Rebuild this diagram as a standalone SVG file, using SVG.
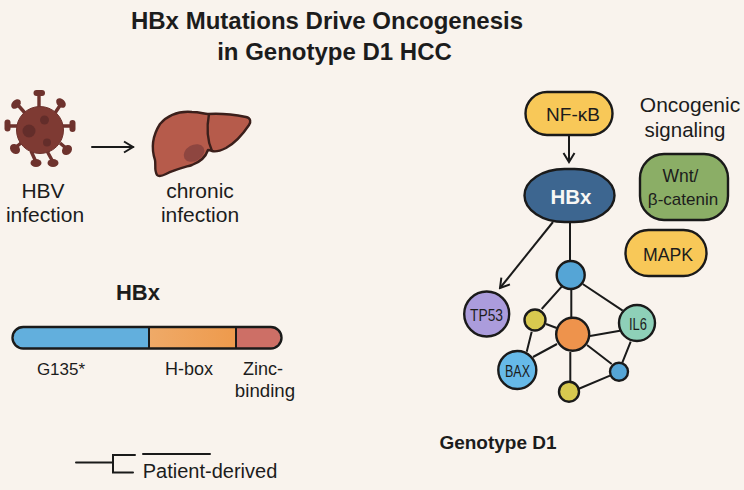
<svg xmlns="http://www.w3.org/2000/svg" width="744" height="490" viewBox="0 0 744 490">
  <style>
    text { font-family: "Liberation Sans", Arial, sans-serif; fill: #1c1c1c; text-anchor: middle; }
    .title { font-size: 24px; font-weight: 700; }
    .label { font-size: 21px; }
    .small { font-size: 18px; }
    .node { font-size: 16px; }
    .ln { stroke: #1a1a1a; stroke-width: 2; fill: none; stroke-linecap: round; }
    .edge { stroke: #1a1a1a; stroke-width: 2; fill: none; }
    .shape { stroke: #1a1a1a; stroke-width: 2.4; }
    .spike { stroke: #6e322d; stroke-width: 3.4; fill: none; }
    .tip { fill: #6e322d; }
    .spot { fill: #5c2a28; opacity: .8; }
  </style>
  <defs>
    <marker id="head" viewBox="0 0 14 14" refX="12" refY="7" markerWidth="14" markerHeight="14" markerUnits="userSpaceOnUse" orient="auto">
      <path d="M3 1.500 L12 7 L3 12.500" fill="none" stroke="#1a1a1a" stroke-width="2"/>
    </marker>
    <linearGradient id="hbox" x1="0" x2="1" y1="0" y2="0">
      <stop offset="0" stop-color="#efaa68"/><stop offset="1" stop-color="#ee9a4c"/>
    </linearGradient>
  </defs>

  <rect width="744" height="490" fill="#f9f3ed"/>

  <g id="title">
    <text class="title" x="327" y="29">HBx Mutations Drive Oncogenesis</text>
    <text class="title" x="334.500" y="60">in Genotype D1 HCC</text>
  </g>

  <!-- Virus particle with surface spikes -->
  <g id="hbv">
    <path class="spike" d="M39 109V94M25 113L17 104M55 113L61 104M18 126H8M62 126H72M21 143L15 148M60 143L67 149M31 151L36 162M47 151L53 162"/>
    <g class="tip">
      <rect x="33.500" y="90" width="11.500" height="6" rx="3"/>
      <ellipse cx="16" cy="104" rx="5.500" ry="4" transform="rotate(-45 16 104)"/>
      <ellipse cx="61" cy="103" rx="5.500" ry="4" transform="rotate(45 61 103)"/>
      <rect x="4.500" y="119.500" width="6" height="12" rx="3"/>
      <rect x="69.500" y="120" width="6" height="12" rx="3"/>
      <ellipse cx="15" cy="149" rx="5.500" ry="4.500" transform="rotate(45 15 149)"/>
      <ellipse cx="67" cy="150" rx="5.500" ry="4.500" transform="rotate(-45 67 150)"/>
      <ellipse cx="36" cy="163" rx="5.500" ry="4"/>
      <ellipse cx="53" cy="163" rx="5.500" ry="4"/>
    </g>
    <circle cx="40" cy="130" r="23.500" fill="#7e3a33" stroke="#6e322d" stroke-width="1"/>
    <circle class="spot" cx="29" cy="131" r="6.500"/>
    <circle class="spot" cx="44.500" cy="120" r="4.500"/>
    <circle class="spot" cx="47" cy="142.500" r="4"/>
    <text class="label" x="43" y="198">HBV</text>
    <text class="label" x="45" y="222">infection</text>
  </g>

  <!-- Liver with a darker lesion -->
  <g id="liver">
    <path d="M157 175C154 170 156 165 155 160C151 148 153 135 160 124C168 115 180 111 192 112C200 112 204 114 208 114C222 113 236 115 246 117C251 118 251 122 249 125C243 134 235 143 226 148C220 151 215 152 212 151C210 150 209 150 208 150C206 156 200 162 192 165C182 168 174 170 166 174C162 176 159 177 157 175Z" fill="#b65b4b" stroke="#3b1f1b" stroke-width="2.400" stroke-linejoin="round"/>
    <path d="M209 114C207 125 207 140 212 151" fill="none" stroke="#3b1f1b" stroke-width="2.400"/>
    <ellipse cx="194" cy="153" rx="11" ry="8" transform="rotate(-30 194 153)" fill="#8e4640"/>
    <text class="label" x="200" y="198">chronic</text>
    <text class="label" x="200" y="222">infection</text>
  </g>

  <g id="connectors">
    <line class="ln" x1="92" y1="147" x2="133" y2="147" marker-end="url(#head)"/>
    <line class="edge" x1="569" y1="135" x2="569" y2="162" marker-end="url(#head)"/>
    <line class="edge" x1="553" y1="222" x2="500" y2="288" marker-end="url(#head)"/>
    <path class="edge" d="M570 222V262M541.700 309L561.700 286.700M582.700 284L622.700 310.700M571.300 288V318M546 324L556.700 328M531.700 331.700L526.700 351.700M533 357L557 344M590 336L620 330.700M630.700 341.700L622.300 362.700M587 345L611.700 364M570.300 352V381.700M578.300 389L610 375.700"/>
    <path class="ln" d="M76 462.500H113" stroke-linecap="butt"/>
    <path class="ln" d="M135 455H113V472.500H133M143 454H210" stroke-linecap="butt" stroke-width="2.400"/>
  </g>

  <g id="nf-kb">
    <rect class="shape" x="525.500" y="92" width="87" height="43" rx="21.500" fill="#f8c858"/>
    <text x="573" y="121" style="font-size:19px">NF-κB</text>
  </g>
  <g id="oncogenic-signaling">
    <text x="690" y="112" style="font-size:21px">Oncogenic</text>
    <text x="685" y="137" style="font-size:20.500px">signaling</text>
  </g>
  <g id="hbx-node">
    <rect class="shape" x="524.500" y="169" width="90" height="53" rx="40" ry="26.500" fill="#3d6690"/>
    <text x="571" y="204" style="font-size:20.500px;font-weight:700;fill:#f7f7f5">HBx</text>
  </g>
  <g id="wnt">
    <rect class="shape" x="640" y="154" width="88" height="66" rx="24" fill="#8bae66"/>
    <text x="680.500" y="182" style="font-size:17.500px">Wnt/</text>
    <text x="683" y="205" style="font-size:17px">β-catenin</text>
  </g>
  <g id="mapk">
    <rect class="shape" x="625.500" y="230" width="81" height="46" rx="23" fill="#f8c858"/>
    <text x="668" y="261" style="font-size:17.700px">MAPK</text>
  </g>

  <g id="net-top"><circle class="shape" cx="570.700" cy="275" r="14" fill="#55a5d6"/></g>
  <g id="tp53">
    <circle class="shape" cx="486.700" cy="314" r="22.500" fill="#ab9cdc"/>
    <text class="node" x="486.500" y="320.500" textLength="33" lengthAdjust="spacingAndGlyphs">TP53</text>
  </g>
  <g id="net-yellow-1"><circle class="shape" cx="535" cy="320" r="10.500" fill="#d8c94f"/></g>
  <g id="net-center"><circle class="shape" cx="572.700" cy="334.300" r="16.500" fill="#ee934c"/></g>
  <g id="il6">
    <circle class="shape" cx="637" cy="323" r="18" fill="#8ed0b8"/>
    <text class="node" x="638" y="330" textLength="18" lengthAdjust="spacingAndGlyphs">IL6</text>
  </g>
  <g id="bax">
    <circle class="shape" cx="517.300" cy="370" r="19" fill="#66b9e8"/>
    <text class="node" x="517.500" y="377" textLength="25" lengthAdjust="spacingAndGlyphs">BAX</text>
  </g>
  <g id="net-blue-small"><circle class="shape" cx="619" cy="371.700" r="9" fill="#55a5d6"/></g>
  <g id="net-yellow-2"><circle class="shape" cx="569" cy="391.700" r="10" fill="#d8c94f"/></g>

  <g id="genotype-label">
    <text x="498" y="449" style="font-size:19px;font-weight:700">Genotype D1</text>
  </g>

  <!-- HBx domain bar -->
  <g id="hbx-domains">
    <text x="138" y="300" style="font-size:22px;font-weight:700">HBx</text>
    <path d="M24 327H149V348H24A10.500 10.500 0 0 1 24 327Z" fill="#62afdd"/>
    <rect x="149" y="327" width="87" height="21" fill="url(#hbox)"/>
    <path d="M236 327H270A10.500 10.500 0 0 1 270 348H236Z" fill="#cd6f66"/>
    <rect x="12.500" y="327" width="269" height="21.500" rx="10.700" fill="none" stroke="#1a1a1a" stroke-width="2.400"/>
    <path class="edge" d="M149 327V348M236 327V348"/>
    <text x="61" y="375" style="font-size:17px">G135*</text>
    <text class="small" x="189" y="375">H-box</text>
    <text class="small" x="263" y="375">Zinc-</text>
    <text x="265" y="397" style="font-size:18.700px">binding</text>
  </g>

  <g id="patient-derived">
    <text x="210" y="478" style="font-size:20px">Patient-derived</text>
  </g>
</svg>
